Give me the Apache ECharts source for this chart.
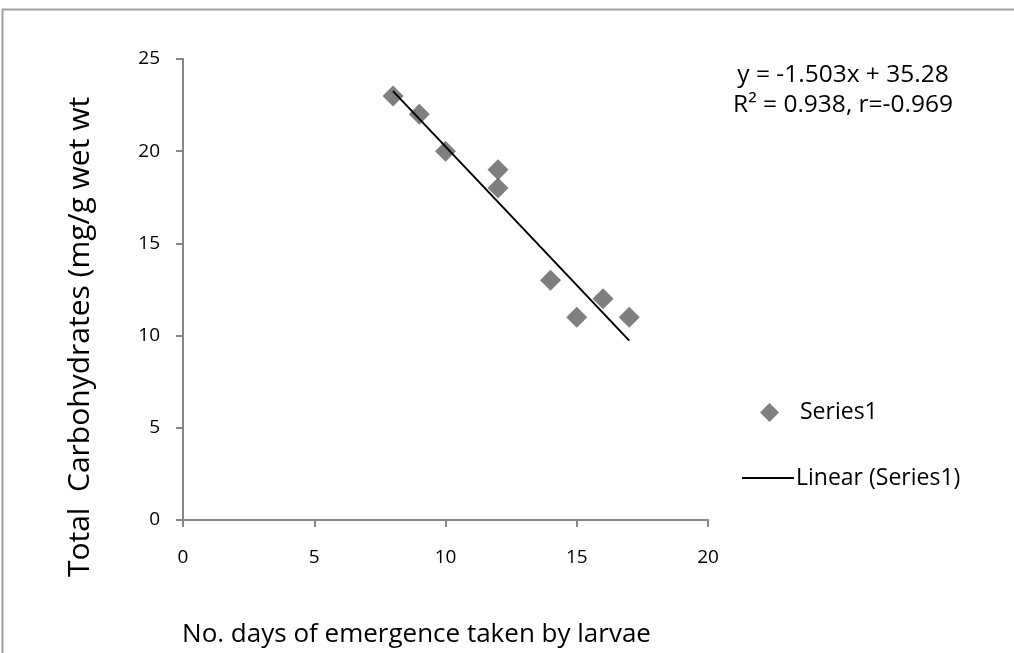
<!DOCTYPE html>
<html>
<head>
<meta charset="utf-8">
<script src="https://cdn.jsdelivr.net/npm/echarts@6/dist/echarts.min.js"></script>
<style>
html,body{margin:0;padding:0;background:#fff;}
#c{width:1014px;height:653px;}
</style>
</head>
<body>
<div id="c"></div>
<script>
// Data
const daysX = [8, 9, 10, 12, 12, 14, 15, 16, 17];
const carbsY = [23, 22, 20, 19, 18, 13, 11, 12, 11];
const trendX = [8, 17];
const trendY = [23.26, 9.73];
const xTicks = [0, 5, 10, 15, 20];
const yTicks = [0, 5, 10, 15, 20, 25];
const equationLines = ['y = -1.503x + 35.28', 'R² = 0.938, r=-0.969'];
const seriesName = 'Series1';
const trendName = 'Linear (Series1)';
const xTitle = 'No. days of emergence taken by larvae';
const yTitle = 'Total  Carbohydrates (mg/g wet wt';

const FONT = '"Open Sans", Lato, sans-serif';
const chart = echarts.init(document.getElementById('c'), null, {renderer: 'canvas'});

const scatterData = daysX.map((x, i) => [x, carbsY[i]]);
const trendData = trendX.map((x, i) => [x, trendY[i]]);

chart.setOption({
  animation: false,
  backgroundColor: '#fff',
  textStyle: {fontFamily: FONT},
  grid: {left: 183, top: 59, right: 306, bottom: 129, containLabel: false},
  xAxis: {
    type: 'value', min: xTicks[0], max: xTicks[xTicks.length - 1], interval: 5,
    axisLine: {show: true, onZero: false, lineStyle: {color: '#868686', width: 2}},
    axisTick: {show: true, inside: false, length: 7, lineStyle: {color: '#868686', width: 2}},
    splitLine: {show: false},
    axisLabel: {color: '#000', fontSize: 19, fontFamily: FONT, margin: 28},
    name: xTitle, nameLocation: 'middle', nameGap: 102,
    nameTextStyle: {color: '#000', fontSize: 26, fontFamily: FONT, padding: [0, 58, 0, 0]}
  },
  yAxis: {
    type: 'value', min: yTicks[0], max: yTicks[yTicks.length - 1], interval: 5,
    axisLine: {show: true, onZero: false, lineStyle: {color: '#868686', width: 2}},
    axisTick: {show: true, inside: false, length: 7, lineStyle: {color: '#868686', width: 2}},
    splitLine: {show: false},
    axisLabel: {color: '#000', fontSize: 19, fontFamily: FONT, margin: 23},
    name: yTitle, nameLocation: 'middle', nameGap: 88, nameRotate: 90,
    nameTextStyle: {color: '#000', fontSize: 30, fontFamily: FONT, padding: [0, 95, 0, 0]}
  },
  legend: [
    {
      data: [{name: seriesName, icon: 'diamond'}],
      left: 760, top: 401, orient: 'vertical', padding: 0,
      itemWidth: 19, itemHeight: 19,
      textStyle: {color: '#000', fontSize: 23, fontFamily: FONT, padding: [0, 0, 0, 16]}
    },
    {
      data: [{name: trendName, icon: 'rect'}],
      left: 742, top: 459, orient: 'vertical', padding: 0,
      itemWidth: 52, itemHeight: 2,
      textStyle: {color: '#000', fontSize: 23, fontFamily: FONT, lineHeight: 24, padding: [14, 0, 0, -3]}
    }
  ],
  series: [
    {
      name: trendName, type: 'line', data: trendData,
      showSymbol: false, symbol: 'none',
      lineStyle: {color: '#000', width: 2},
      itemStyle: {color: '#000'},
      z: 3
    },
    {
      name: seriesName, type: 'scatter', data: scatterData,
      symbol: 'diamond', symbolSize: 21,
      itemStyle: {color: '#5f5f5f'},
      z: 2
    }
  ],
  graphic: [
    {
      type: 'polyline', silent: true,
      shape: {points: [[2.5, 653], [2.5, 9.5], [1014, 9.5]]},
      style: {stroke: '#a0a0a0', lineWidth: 2, fill: null}
    },
    {
      type: 'text', silent: true,
      style: {
        text: equationLines.join('\n'), x: 843, y: 60, align: 'center', verticalAlign: 'top',
        textAlign: 'center', textVerticalAlign: 'top',
        fill: '#000', fontSize: 24.5, fontFamily: FONT, lineHeight: 30
      }
    }
  ]
});
</script>
</body>
</html>
